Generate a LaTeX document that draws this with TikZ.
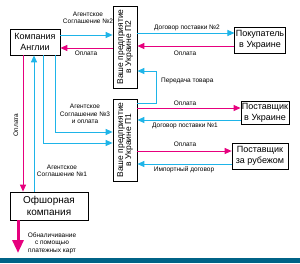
\documentclass[tikz,border=0pt]{standalone}
\usepackage{fontspec}
\setmainfont{Liberation Sans}
\usetikzlibrary{arrows.meta}
\definecolor{dogblue}{RGB}{30,180,232}
\definecolor{payred}{RGB}{230,0,126}
\definecolor{barblue}{RGB}{0,99,135}

\begin{document}
\begin{tikzpicture}[x=1pt, y=-1pt,
  firm/.style={draw, line width=0.7pt, fill=white, align=center, inner sep=1pt,
    font=\fontsize{9}{11}\selectfont},
  lbl/.style={font=\fontsize{6.5}{7.3}\selectfont, align=center, inner sep=0pt},
  dog/.style={dogblue, line width=1pt, -{Triangle[length=7pt,width=6pt]}},
  pay/.style={payred, line width=1pt, -{Triangle[length=7pt,width=6pt]}}
]
  \useasboundingbox (0,0) rectangle (300,263);

  % Фирмы
  \node[firm, minimum width=50pt, minimum height=26pt] (eng) at (35,42) {Компания\\Англии};
  \node[firm, minimum width=24pt, minimum height=82pt, font=\fontsize{8.5}{10}\selectfont] (p2) at (125,47)
    {\rotatebox{90}{\begin{tabular}{@{}c@{}}Ваше предприятие\\[-2pt]в Украине П2\end{tabular}}};
  \node[firm, minimum width=24pt, minimum height=82pt, font=\fontsize{8.5}{10}\selectfont] (p1) at (125,140)
    {\rotatebox{90}{\begin{tabular}{@{}c@{}}Ваше предприятие\\[-2pt]в Украине П1\end{tabular}}};
  \node[firm, minimum width=46pt, minimum height=26pt] (buyer) at (260,40) {Покупатель\\в Украине};
  \node[firm, minimum width=48pt, minimum height=23pt] (supua) at (265,112.5) {Поставщик\\в Украине};
  \node[firm, minimum width=56pt, minimum height=26pt] (supab) at (260,156) {Поставщик\\за рубежом};
  \node[firm, minimum width=78pt, minimum height=28pt, font=\fontsize{10}{12}\selectfont] (off) at (49,206) {Офшорная\\компания};

  % Англия -- П2
  \draw[dog] (eng.east |- 0,35) -- (p2.west |- 0,35);
  \draw[pay] (p2.west |- 0,48) -- (eng.east |- 0,48);
  \node[lbl] (agr2) at (88,18) {Агентское\\Соглашение №2};
  \node[lbl] (pay2) at (86,53) {Оплата};

  % П2 -- покупатель
  \draw[dog] (p2.east |- 0,33) -- (buyer.west |- 0,33);
  \draw[pay] (buyer.west |- 0,46) -- (p2.east |- 0,46);
  \node[lbl] (dog2) at (187,28) {Договор поставки №2};
  \node[lbl] (payb) at (185,53) {Оплата};

  % П1 -- П2
  \draw[dog] (p1.east |- 0,103) -| (156,71) -- (p2.east |- 0,71);
  \node[lbl, anchor=west] (goods) at (161,81) {Передача товара};

  % П1 -- поставщики
  \draw[pay] (p1.east |- 0,108) -- (supua.west |- 0,108);
  \draw[dog] (supua.west |- 0,120) -- (p1.east |- 0,120);
  \node[lbl] (payu) at (185,103) {Оплата};
  \node[lbl] (dog1) at (185,126) {Договор поставки №1};
  \draw[pay] (p1.east |- 0,151) -- (supab.west |- 0,151);
  \draw[dog] (supab.west |- 0,164) -- (p1.east |- 0,164);
  \node[lbl] (paya) at (185,144) {Оплата};
  \node[lbl] (imp) at (184,170) {Импортный договор};

  % Англия -- П1
  \draw[dog] (eng.south -| 55,0) |- (p1.west |- 0,132);
  \draw[dog] (eng.south -| 43,0) |- (p1.west |- 0,143);
  \node[lbl] (agr3) at (85,114) {Агентское\\Соглашение №3\\и оплата};

  % Англия -- офшор
  \draw[pay] (eng.south -| 23,0) -- (off.north -| 23,0);
  \draw[dog] (off.north -| 34,0) -- (eng.south -| 34,0);
  \node[lbl, rotate=90] (payo) at (16,125) {Оплата};
  \node[lbl] (agr1) at (62,171) {Агентское\\Соглашение №1};

  % обналичивание
  \coordinate (cash) at (18,253);
  \draw[payred, line width=3pt, -{Triangle[length=13pt,width=11pt]}] (off.south -| 18,0) -- (cash);
  \node[lbl] (cashl) at (52,243) {Обналичивание\\с помощью\\платежных карт};

  \fill[barblue] (0,258) rectangle (300,263);
\end{tikzpicture}
\end{document}
